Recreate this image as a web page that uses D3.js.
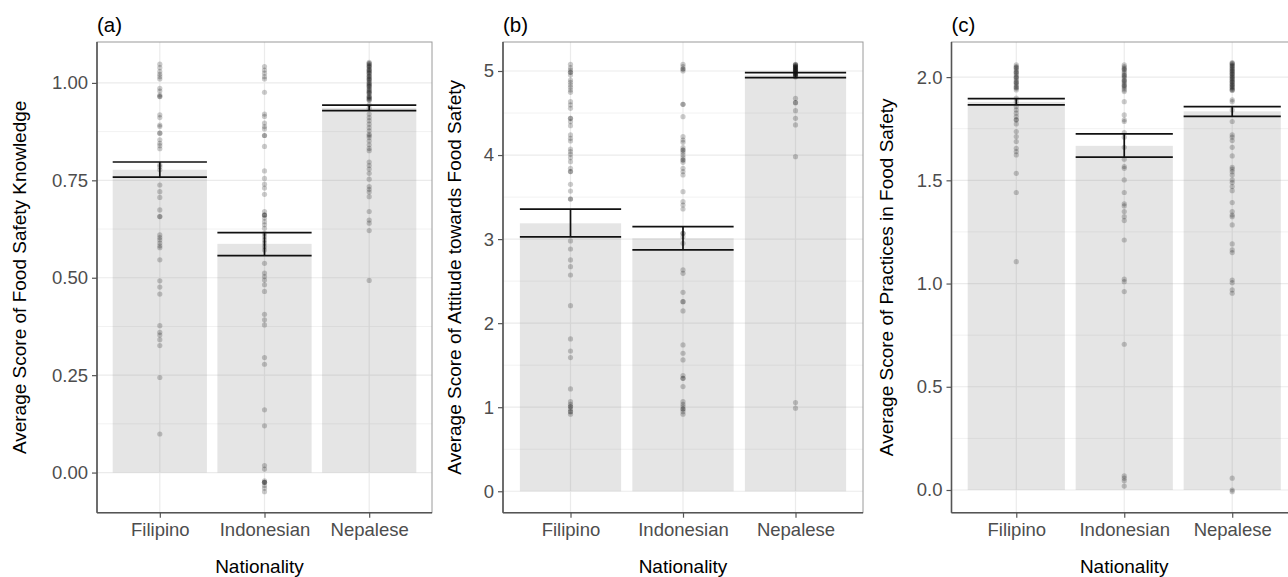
<!DOCTYPE html>
<html>
<head>
<meta charset="utf-8">
<script src="https://cdn.jsdelivr.net/npm/d3@7/dist/d3.min.js"></script>
<style>
  html, body { margin: 0; padding: 0; background: #fff; }
  svg { display: block; font-family: "Liberation Sans", Arial, Helvetica, sans-serif; }
</style>
</head>
<body>
<svg id="chart" width="1288" height="577"></svg>
<script>
// ---------------- DATA ----------------
const categories = ["Filipino", "Indonesian", "Nepalese"];

// (a) Knowledge
const knowMean  = [0.777, 0.587, 0.936];
const knowLower = [0.758, 0.557, 0.929];
const knowUpper = [0.797, 0.616, 0.943];
const knowTicks = [0, 0.25, 0.5, 0.75, 1.0];
const knowMinor = [0.125, 0.375, 0.625, 0.875];
const knowFilipino = [1.048, 1.039, 1.029, 1.022, 1.016, 1.010, 0.986, 0.979, 0.969, 0.965, 0.965, 0.918, 0.911,
  0.892, 0.888, 0.871, 0.871, 0.854, 0.845, 0.839, 0.831, 0.790, 0.785, 0.777, 0.738, 0.721, 0.706, 0.674, 0.657,
  0.657, 0.610, 0.603, 0.597, 0.589, 0.582, 0.577, 0.546, 0.492, 0.476, 0.458, 0.377, 0.360, 0.353, 0.341, 0.326,
  0.244, 0.099];
const knowIndonesian = [1.042, 1.033, 1.025, 1.016, 1.010, 0.976, 0.920, 0.914, 0.897, 0.888, 0.882, 0.865, 0.865,
  0.837, 0.774, 0.755, 0.740, 0.730, 0.714, 0.670, 0.661, 0.661, 0.661, 0.653, 0.644, 0.636, 0.627, 0.614, 0.606,
  0.597, 0.589, 0.580, 0.571, 0.537, 0.512, 0.503, 0.494, 0.482, 0.465, 0.406, 0.392, 0.379, 0.295, 0.278, 0.161,
  0.120, 0.018, 0.009, -0.021, -0.025, -0.025, -0.025, -0.033, -0.040, -0.049];
const knowNepalese = [1.053, 1.049, 1.044, 1.040, 1.036, 1.032, 1.027, 1.023, 1.019, 1.015, 1.010, 1.006, 1.002,
  0.997, 0.993, 0.989, 0.985, 0.980, 0.976, 0.972, 0.967, 0.963, 0.959, 0.955, 1.050, 1.042, 1.034, 1.025, 1.017,
  1.008, 1.000, 0.991, 0.983, 0.974, 0.965, 0.957, 1.046, 1.030, 1.012, 0.995, 0.978, 0.961, 0.944, 0.935, 0.920,
  0.911, 0.903, 0.894, 0.885, 0.877, 0.868, 0.865, 0.860, 0.851, 0.841, 0.832, 0.826, 0.797, 0.788, 0.779, 0.768,
  0.753, 0.734, 0.727, 0.720, 0.708, 0.670, 0.648, 0.640, 0.621, 0.493];

// (b) Attitude
const attMean  = [3.188, 3.010, 4.950];
const attLower = [3.027, 2.871, 4.920];
const attUpper = [3.357, 3.149, 4.980];
const attTicks = [0, 1, 2, 3, 4, 5];
const attMinor = [0.5, 1.5, 2.5, 3.5, 4.5];
const attFilipino = [5.080, 5.040, 5.012, 4.984, 4.984, 4.952, 4.893, 4.865, 4.834, 4.806, 4.774, 4.746, 4.635,
  4.596, 4.556, 4.437, 4.437, 4.397, 4.350, 4.239, 4.199, 4.167, 4.072, 4.040, 4.009, 3.969, 3.921, 3.842, 3.803,
  3.803, 3.652, 3.572, 3.477, 3.477, 2.978, 2.882, 2.752, 2.672, 2.573, 2.208, 1.812, 1.669, 1.590, 1.217, 1.066,
  1.034, 1.007, 1.007, 0.979, 0.947, 0.947, 0.916];
const attIndonesian = [5.080, 5.051, 5.024, 5.024, 5.000, 4.604, 4.604, 4.457, 4.219, 4.179, 4.152, 4.088, 4.060,
  4.060, 4.033, 4.001, 3.969, 3.941, 3.941, 3.914, 3.842, 3.803, 3.763, 3.564, 3.445, 3.406, 3.358, 3.069, 3.069,
  3.029, 2.950, 2.633, 2.593, 2.367, 2.256, 2.256, 2.145, 1.741, 1.642, 1.562, 1.376, 1.344, 1.344, 1.245, 1.066,
  1.034, 1.007, 0.979, 0.979, 0.947, 0.916];
const attNepalese = [5.080, 5.071, 5.063, 5.055, 5.047, 5.040, 5.032, 5.024, 5.016, 5.008, 5.000, 4.992, 4.984,
  4.976, 4.968, 4.960, 4.952, 4.944, 4.936, 4.929, 5.075, 5.050, 5.020, 4.995, 4.970, 4.675, 4.623, 4.623, 4.528,
  4.437, 4.358, 3.981, 1.055, 0.988];

// (c) Practices
const pracMean  = [1.880, 1.667, 1.834];
const pracLower = [1.865, 1.612, 1.810];
const pracUpper = [1.896, 1.725, 1.857];
const pracTicks = [0, 0.5, 1.0, 1.5, 2.0];
const pracMinor = [0.25, 0.75, 1.25, 1.75];
const pracFilipino = [2.059, 2.051, 2.043, 2.035, 2.027, 2.019, 2.011, 2.003, 1.995, 1.986, 1.978, 1.970, 1.962,
  1.954, 1.946, 1.938, 2.047, 2.023, 1.999, 1.974, 1.950, 1.898, 1.881, 1.857, 1.841, 1.825, 1.809, 1.793, 1.793,
  1.773, 1.736, 1.712, 1.688, 1.655, 1.639, 1.623, 1.534, 1.441, 1.106];
const pracIndonesian = [2.059, 2.051, 2.043, 2.035, 2.027, 2.019, 2.011, 2.003, 1.995, 1.986, 1.978, 1.970, 1.962,
  1.954, 1.946, 1.938, 1.930, 2.039, 2.007, 1.982, 1.958, 1.881, 1.817, 1.793, 1.785, 1.731, 1.709, 1.660, 1.602,
  1.567, 1.558, 1.502, 1.441, 1.386, 1.376, 1.349, 1.324, 1.305, 1.211, 1.021, 1.009, 0.961, 0.706, 0.068, 0.057,
  0.045, 0.019];
const pracNepalese = [2.070, 2.064, 2.058, 2.051, 2.045, 2.038, 2.032, 2.025, 2.019, 2.012, 2.006, 1.999, 1.993,
  1.986, 1.980, 1.973, 1.967, 1.960, 1.954, 1.947, 1.941, 1.935, 2.066, 2.054, 2.041, 2.028, 2.016, 2.003, 1.990,
  1.977, 1.964, 1.951, 1.938, 1.890, 1.881, 1.841, 1.785, 1.720, 1.709, 1.693, 1.660, 1.618, 1.563, 1.554, 1.542,
  1.526, 1.502, 1.489, 1.470, 1.450, 1.392, 1.349, 1.332, 1.324, 1.284, 1.192, 1.163, 1.150, 1.017, 1.004, 0.969,
  0.953, 0.057, 0.000, -0.008];

// ---------------- LAYOUT / STYLE ----------------
const plotTop = 42, plotBottom = 512.7;
const panels = [
  { tag: "(a)", left: 97, right: 432, domain: [-0.103, 1.105], fmt: ".2f",
    ticks: knowTicks, minor: knowMinor, mean: knowMean, lower: knowLower, upper: knowUpper,
    dots: [knowFilipino, knowIndonesian, knowNepalese],
    ytitle: "Average Score of Food Safety Knowledge", ytitleX: 26, xtitleDx: -5 },
  { tag: "(b)", left: 503, right: 863, domain: [-0.255, 5.345], fmt: "d",
    ticks: attTicks, minor: attMinor, mean: attMean, lower: attLower, upper: attUpper,
    dots: [attFilipino, attIndonesian, attNepalese],
    ytitle: "Average Score of Attitude towards Food Safety", ytitleX: 461, xtitleDx: 0 },
  { tag: "(c)", left: 951.5, right: 1297, domain: [-0.110, 2.170], fmt: ".1f",
    ticks: pracTicks, minor: pracMinor, mean: pracMean, lower: pracLower, upper: pracUpper,
    dots: [pracFilipino, pracIndonesian, pracNepalese],
    ytitle: "Average Score of Practices in Food Safety", ytitleX: 893, xtitleDx: 0 }
];

const svg = d3.select("#chart");

panels.forEach(p => {
  const x = d3.scalePoint().domain(categories).range([p.left, p.right]).padding(0.6);
  const step = x.step();
  const y = d3.scaleLinear().domain(p.domain).range([plotBottom, plotTop]);
  const g = svg.append("g");

  // grid
  g.append("g").selectAll("line").data(p.minor).join("line")
    .attr("x1", p.left).attr("x2", p.right)
    .attr("y1", d => y(d)).attr("y2", d => y(d))
    .attr("stroke", "#f2f2f2").attr("stroke-width", 1);
  g.append("g").selectAll("line").data(p.ticks).join("line")
    .attr("x1", p.left).attr("x2", p.right)
    .attr("y1", d => y(d)).attr("y2", d => y(d))
    .attr("stroke", "#ebebeb").attr("stroke-width", 1.2);
  g.append("g").selectAll("line").data(categories).join("line")
    .attr("x1", d => x(d)).attr("x2", d => x(d))
    .attr("y1", plotTop).attr("y2", plotBottom)
    .attr("stroke", "#ebebeb").attr("stroke-width", 1.2);

  // bars
  g.append("g").selectAll("rect").data(categories).join("rect")
    .attr("x", d => x(d) - step * 0.45)
    .attr("width", step * 0.9)
    .attr("y", (d, i) => y(p.mean[i]))
    .attr("height", (d, i) => y(0) - y(p.mean[i]))
    .attr("fill", "rgb(127,127,127)").attr("fill-opacity", 0.2);

  // points
  categories.forEach((c, i) => {
    g.append("g").selectAll("circle").data(p.dots[i]).join("circle")
      .attr("cx", x(c)).attr("cy", d => y(d)).attr("r", 2.6)
      .attr("fill", "#000").attr("fill-opacity", 0.2);
  });

  // error bars
  categories.forEach((c, i) => {
    const eb = g.append("g").attr("stroke", "#111").attr("stroke-width", 1.7);
    eb.append("line").attr("x1", x(c) - step * 0.45).attr("x2", x(c) + step * 0.45)
      .attr("y1", y(p.upper[i])).attr("y2", y(p.upper[i]));
    eb.append("line").attr("x1", x(c) - step * 0.45).attr("x2", x(c) + step * 0.45)
      .attr("y1", y(p.lower[i])).attr("y2", y(p.lower[i]));
    eb.append("line").attr("x1", x(c)).attr("x2", x(c))
      .attr("y1", y(p.upper[i])).attr("y2", y(p.lower[i]));
  });

  // panel border
  g.append("rect").attr("x", p.left).attr("y", plotTop)
    .attr("width", p.right - p.left).attr("height", plotBottom - plotTop)
    .attr("fill", "none").attr("stroke", "#9a9a9a").attr("stroke-width", 1);

  // axes
  const yAxis = d3.axisLeft(y).tickValues(p.ticks).tickSize(5).tickPadding(4)
    .tickFormat(d3.format(p.fmt));
  const ya = g.append("g").attr("transform", `translate(${p.left},0)`).call(yAxis);
  ya.select(".domain").attr("d", `M0,${plotTop}V${plotBottom}`).attr("stroke", "#555").attr("stroke-width", 1.6);
  ya.selectAll(".tick line").attr("stroke", "#555").attr("stroke-width", 1.2);
  ya.selectAll(".tick text").attr("fill", "#4d4d4d").attr("font-size", 18.5)
    .attr("font-family", "Liberation Sans, Arial, sans-serif");

  const xAxis = d3.axisBottom(x).tickSize(5).tickPadding(5);
  const xa = g.append("g").attr("transform", `translate(0,${plotBottom})`).call(xAxis);
  xa.select(".domain").attr("d", `M${p.left},0H${p.right}`).attr("stroke", "#555").attr("stroke-width", 1.6);
  xa.selectAll(".tick line").attr("stroke", "#555").attr("stroke-width", 1.2);
  xa.selectAll(".tick text").attr("fill", "#4d4d4d").attr("font-size", 18.5)
    .attr("font-family", "Liberation Sans, Arial, sans-serif");

  // titles
  g.append("text").attr("x", p.left).attr("y", 32)
    .attr("font-size", 20.5).attr("fill", "#000").text(p.tag);
  g.append("text").attr("x", x(categories[1]) + p.xtitleDx).attr("y", 573)
    .attr("text-anchor", "middle").attr("font-size", 19).attr("fill", "#000").text("Nationality");
  g.append("text")
    .attr("transform", `translate(${p.ytitleX},${(plotTop + plotBottom) / 2}) rotate(-90)`)
    .attr("text-anchor", "middle").attr("font-size", 19).attr("fill", "#000").text(p.ytitle);
});
</script>
</body>
</html>
